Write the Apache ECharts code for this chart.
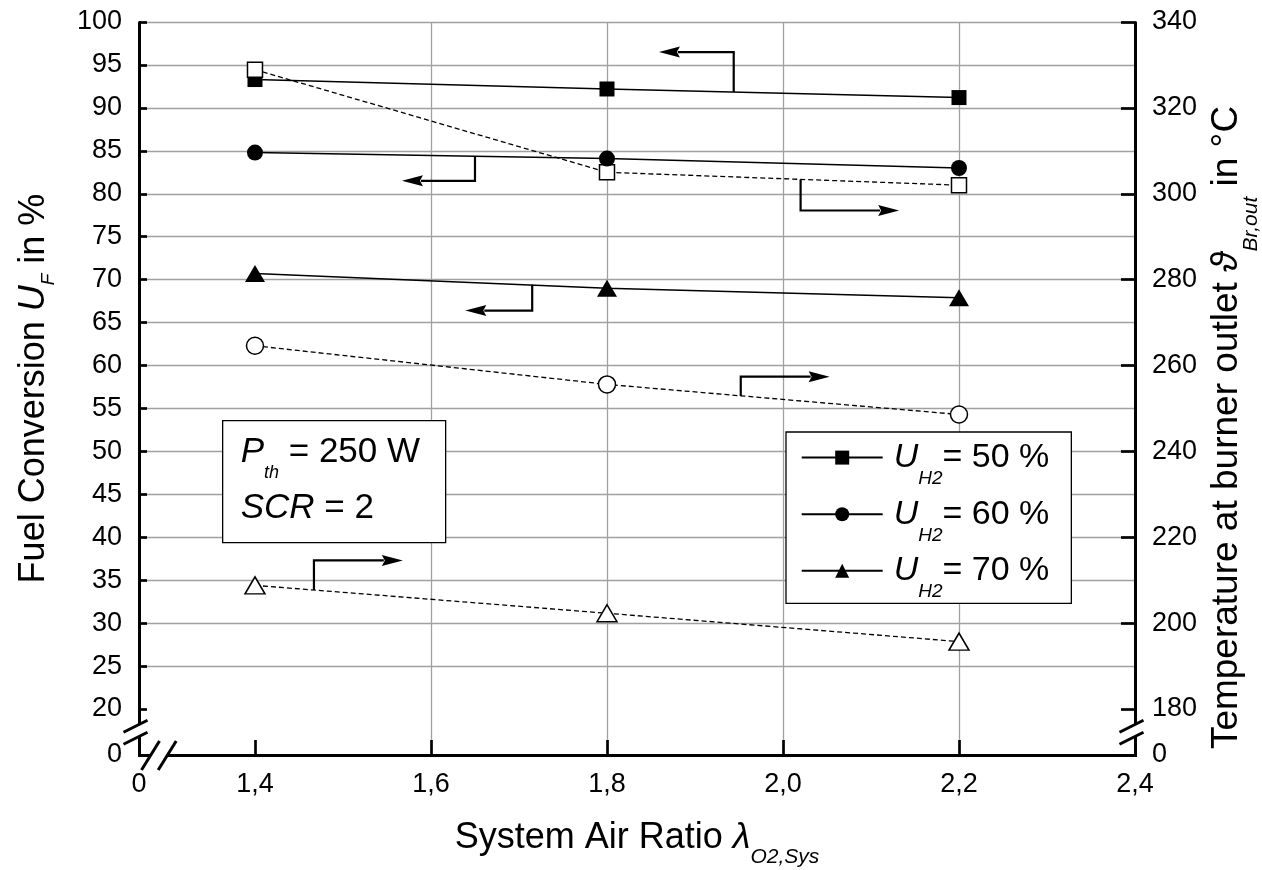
<!DOCTYPE html>
<html>
<head>
<meta charset="utf-8">
<script src="https://cdn.jsdelivr.net/npm/echarts@6/dist/echarts.min.js"></script>
<style>
  html, body { margin: 0; padding: 0; background: #fff; }
  #chart { width: 1262px; height: 870px; }
</style>
</head>
<body>
<div id="chart"></div>
<script>
// System air ratio at which the burner was operated
const airRatio = [1.4, 1.8, 2.2];

// Fuel conversion U_F in % (left axis)
const fuelConv50 = [93.3, 92.2, 91.2];
const fuelConv60 = [84.8, 84.1, 83.0];
const fuelConv70 = [70.7, 69.0, 67.9];

// Burner outlet temperature in °C (right axis)
const burnerTemp50 = [328.9, 305.0, 302.0];
const burnerTemp60 = [264.6, 255.6, 248.6];
const burnerTemp70 = [208.8, 202.3, 195.7];

// Legend labels (hydrogen utilisation)
const utilisation = ['50 %', '60 %', '70 %'];

// Axis ranges and the broken-away parts of each axis
const xRange = [0, 2.4];
const yLeftRange = [0, 100];
const yRightRange = [0, 340];
const xBreak = [0, 1.4];
const yLeftBreak = [0, 20];
const yRightBreak = [0, 180];

// Annotation arrows: [x of riser, y on curve, y of elbow, x of arrow tip]
const convArrows = [
  [1.944, 91.85, 96.5, 1.859],
  [1.650, 84.35, 81.5, 1.567],
  [1.715, 69.4, 66.4, 1.639]
];
const tempArrows = [
  [2.020, 303.3, 296.1, 2.132],
  [1.952, 252.9, 257.4, 2.053],
  [1.467, 207.7, 214.6, 1.568]
];

const FONT = '"Liberation Sans", Arial, Helvetica, sans-serif';
const pairs = (xs, ys) => xs.map((x, i) => [x, ys[i]]);

const chart = echarts.init(document.getElementById('chart'), null, { renderer: 'canvas' });

const gridLine = { show: true, lineStyle: { color: '#a0a0a0', width: 1.3 } };
const axisLineStyle = { show: true, onZero: false, lineStyle: { color: '#000', width: 3 } };
const tickStyle = (len) => ({ show: true, inside: true, length: len, lineStyle: { color: '#000', width: 2.7 } });
const labelStyle = (margin, fmt) => ({ margin, fontSize: 27, color: '#000', fontFamily: FONT, formatter: fmt });

function tok(size, extra) {
  return Object.assign({ fontSize: size, fontFamily: FONT, color: '#000' }, extra || {});
}
// subscript token: dropped below the baseline without enlarging the line box
function subTok(size, drop, lh) {
  return tok(size, { fontStyle: 'italic', lineHeight: lh, padding: [drop, 0, -drop, 0] });
}

function lineSeries(name, ys, yAxis, symbol, size, filled, dashed) {
  return {
    name, type: 'line', yAxisIndex: yAxis,
    data: pairs(airRatio, ys),
    symbol, symbolSize: size, showSymbol: true,
    lineStyle: { color: '#000', width: dashed ? 1.3 : 1.5, type: dashed ? [5, 3] : 'solid' },
    itemStyle: filled ? { color: '#000', borderWidth: 0 } : { color: '#fff', borderColor: '#000', borderWidth: 1.5 },
    emphasis: { disabled: true },
    silent: true
  };
}

// elbow arrow: vertical riser from the curve, then a horizontal arrow towards the axis it belongs to
function arrowItem(params, api) {
  const a = api.coord([api.value(0), api.value(1)]);
  const b = api.coord([api.value(0), api.value(2)]);
  const t = api.coord([api.value(3), api.value(2)]);
  const dir = t[0] < b[0] ? -1 : 1;
  const head = 21, half = 5.5;
  const baseX = t[0] - dir * head;
  return {
    type: 'group',
    children: [
      { type: 'polyline', shape: { points: [a, b, [baseX + dir * 2, b[1]]] },
        style: { stroke: '#000', lineWidth: 2.2, fill: null } },
      { type: 'polygon', shape: { points: [[t[0], t[1]], [baseX, t[1] - half], [baseX + dir * 3, t[1]], [baseX, t[1] + half]] },
        style: { fill: '#000', stroke: null } }
    ]
  };
}

const option = {
  animation: false,
  backgroundColor: '#fff',
  grid: { left: 139, right: 127, top: 22, bottom: 115, containLabel: false, outerBoundsMode: 'none' },
  xAxis: {
    type: 'value', min: xRange[0], max: xRange[1], interval: 0.2,
    breaks: [{ start: xBreak[0], end: xBreak[1], gap: 0.1318 }],
    breakArea: { show: false },
    axisLine: axisLineStyle,
    axisTick: tickStyle(15),
    axisLabel: labelStyle(16, v => (Math.abs(v) < 1e-9 ? '0' : v.toFixed(1).replace('.', ','))),
    splitLine: gridLine,
    name: '{n|System Air Ratio }{g|λ}{s|O2,Sys}',
    nameLocation: 'middle', nameGap: 63,
    nameTextStyle: {
      fontFamily: FONT, fontSize: 36, color: '#000',
      rich: { n: tok(36, { lineHeight: 40 }), g: tok(36, { fontStyle: 'italic', lineHeight: 40 }), s: subTok(21, 19.2, 22) }
    }
  },
  yAxis: [
    {
      type: 'value', position: 'left', min: yLeftRange[0], max: yLeftRange[1], interval: 5,
      breaks: [{ start: yLeftBreak[0], end: yLeftBreak[1], gap: 5.354 }],
      breakArea: { show: false },
      axisLine: axisLineStyle,
      axisTick: tickStyle(8),
      axisLabel: labelStyle(17, v => String(Math.round(v))),
      splitLine: gridLine,
      name: '{n|Fuel Conversion }{i|U}{s|F}{n| in %}',
      nameLocation: 'middle', nameGap: 85,
      nameTextStyle: {
        fontFamily: FONT, fontSize: 36, color: '#000',
        rich: { n: tok(36, { lineHeight: 40 }), i: tok(36, { fontStyle: 'italic', lineHeight: 40 }), s: subTok(19, 14.5, 20) }
      }
    },
    {
      type: 'value', position: 'right', min: yRightRange[0], max: yRightRange[1], interval: 20,
      breaks: [{ start: yRightBreak[0], end: yRightBreak[1], gap: 10.71 }],
      breakArea: { show: false },
      axisLine: axisLineStyle,
      axisTick: tickStyle(14),
      axisLabel: labelStyle(17, v => String(Math.round(v))),
      splitLine: { show: false },
      name: '{n|Temperature at burner outlet }{i|ϑ}{s|Br,out}{n| in °C}',
      nameLocation: 'middle', nameGap: 72,
      nameTextStyle: {
        fontFamily: FONT, fontSize: 37, color: '#000', padding: [0, 78, 0, 0],
        rich: { n: tok(37, { lineHeight: 40 }), i: tok(37, { fontStyle: 'italic', lineHeight: 40 }), s: subTok(21, 24.5, 22) }
      }
    }
  ],
  legend: {
    data: utilisation,
    orient: 'vertical', left: 786, top: 432,
    itemWidth: 81, itemHeight: 17.5, itemGap: 8.9,
    padding: [8.6, 22, 1.8, 14.7],
    backgroundColor: '#fff', borderColor: '#000', borderWidth: 1.3, borderRadius: 0,
    selectedMode: false,
    formatter: name => '{u|U}{s|H2}{t|= ' + name + '}',
    textStyle: {
      fontFamily: FONT, fontSize: 34, color: '#000',
      rich: { u: tok(34, { fontStyle: 'italic', lineHeight: 36, padding: [0, 0, 0, 6] }), s: subTok(19, 21.2, 20), t: tok(34, { lineHeight: 36 }) }
    }
  },
  series: [
    lineSeries(utilisation[0], fuelConv50, 0, 'rect', 15, true, false),
    lineSeries('T ' + utilisation[0], burnerTemp50, 1, 'rect', 15, false, true),
    lineSeries(utilisation[1], fuelConv60, 0, 'circle', 16, true, false),
    lineSeries('T ' + utilisation[1], burnerTemp60, 1, 'circle', 17, false, true),
    lineSeries(utilisation[2], fuelConv70, 0, 'triangle', [20, 17], true, false),
    lineSeries('T ' + utilisation[2], burnerTemp70, 1, 'triangle', [20, 17], false, true),
    { name: 'conv arrows', type: 'custom', yAxisIndex: 0, data: convArrows, renderItem: arrowItem, clip: false, silent: true, z: 5 },
    { name: 'temp arrows', type: 'custom', yAxisIndex: 1, data: tempArrows, renderItem: arrowItem, clip: false, silent: true, z: 5 }
  ]
};

chart.setOption(option);

// Axis lines through the broken parts, break marks and the parameter box
function px(finder, v) { return chart.convertToPixel(finder, v); }
const crisp = v => Math.round(v) + 0.5;
const xLeft = crisp(px({ xAxisIndex: 0 }, xRange[0]));
const xRight = crisp(px({ xAxisIndex: 0 }, xRange[1]));
const xBreakEnd = px({ xAxisIndex: 0 }, xBreak[1]);
const yZero = crisp(px({ yAxisIndex: 0 }, yLeftBreak[0]));
const yTop = px({ yAxisIndex: 0 }, yLeftBreak[1]);
const yc = (yZero + yTop) / 2 - 2;

const blackLine = { stroke: '#000', lineWidth: 3, lineCap: 'butt' };
const axisFill = [
  { type: 'line', shape: { x1: xLeft, y1: yTop, x2: xLeft, y2: yZero + 1.5 }, style: blackLine, z: 120 },
  { type: 'line', shape: { x1: xRight, y1: yTop, x2: xRight, y2: yZero + 1.5 }, style: blackLine, z: 120 },
  { type: 'line', shape: { x1: xLeft - 1.5, y1: yZero, x2: xBreakEnd + 2, y2: yZero }, style: blackLine, z: 120 }
];
function yBreakMarks(ax) {
  return [
    { type: 'rect', shape: { x: ax - 3, y: yc - 6, width: 6, height: 12 }, style: { fill: '#fff' }, z: 130 },
    { type: 'line', shape: { x1: ax - 16, y1: yc + 2, x2: ax + 8, y2: yc - 10 }, style: blackLine, z: 131 },
    { type: 'line', shape: { x1: ax - 16, y1: yc + 14, x2: ax + 8, y2: yc + 2 }, style: blackLine, z: 131 }
  ];
}
const xc1 = xLeft + 11, xc2 = xLeft + 27.7;
const xBreakMarks = [
  { type: 'rect', shape: { x: xc1, y: yZero - 3, width: xc2 - xc1, height: 6 }, style: { fill: '#fff' }, z: 130 },
  { type: 'line', shape: { x1: xc1 - 9, y1: yZero + 14.5, x2: xc1 + 9, y2: yZero - 14.5 }, style: blackLine, z: 131 },
  { type: 'line', shape: { x1: xc2 - 9, y1: yZero + 14.5, x2: xc2 + 9, y2: yZero - 14.5 }, style: blackLine, z: 131 }
];

const paramBox = {
  type: 'group', left: 222, top: 420, z: 50,
  children: [
    { type: 'rect', shape: { x: 0, y: 0, width: 223, height: 122 }, style: { fill: '#fff', stroke: '#000', lineWidth: 1.3 } },
    {
      type: 'text', x: 18, y: 4,
      style: {
        text: '{i|P}{s|th}{n| = 250 W}\n{i|SCR}{n| = 2}',
        fontFamily: FONT, fontSize: 35, fill: '#000',
        align: 'left', verticalAlign: 'top',
        rich: {
          i: { fontSize: 35, fontFamily: FONT, fontStyle: 'italic', lineHeight: 56, fill: '#000' },
          s: { fontSize: 18, fontFamily: FONT, fontStyle: 'italic', lineHeight: 20, padding: [20.5, 0, -20.5, 0], fill: '#000' },
          n: { fontSize: 35, fontFamily: FONT, lineHeight: 56, fill: '#000' }
        }
      }
    }
  ]
};

chart.setOption({
  graphic: [paramBox].concat(axisFill, yBreakMarks(xLeft), yBreakMarks(xRight), xBreakMarks)
});
</script>
</body>
</html>
